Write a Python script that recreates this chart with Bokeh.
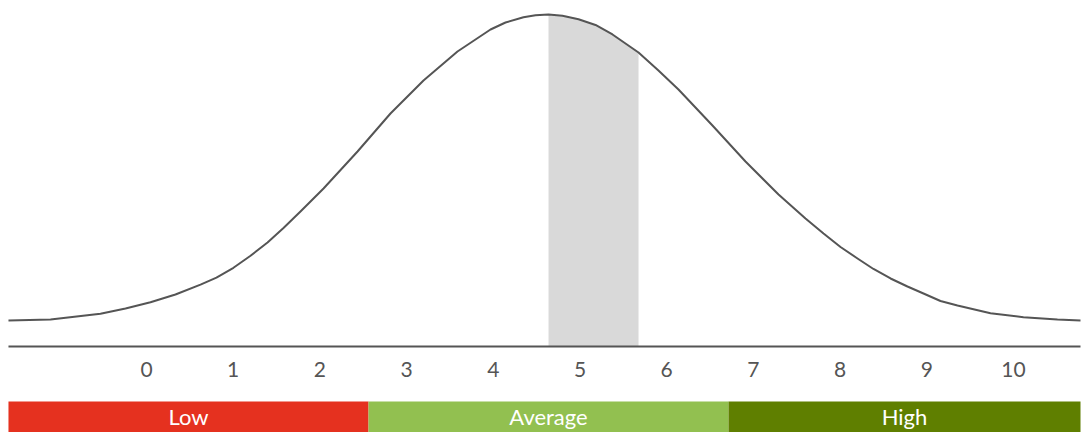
from bokeh.plotting import figure
from bokeh.models import ColumnDataSource, Range1d
from bokeh.core.properties import value
from bokeh.embed import file_html
from bokeh.resources import INLINE

# Bell curve (x = score, h = relative height, peak = 100)
curve_x = [-1.592, -1.107, -0.531, -0.242, 0.046, 0.334, 0.623, 0.807, 1.003, 1.200,
           1.396, 1.580, 1.776, 2.042, 2.434, 2.814, 3.195, 3.587, 3.968, 4.141,
           4.348, 4.487, 4.637, 4.798, 4.983, 5.179, 5.375, 5.675, 5.905, 6.136,
           6.528, 6.909, 7.290, 7.601, 7.809, 8.005, 8.201, 8.385, 8.582, 8.777,
           8.962, 9.158, 9.354, 9.735, 10.115, 10.507, 10.773]
curve_h = [0.33, 0.65, 2.51, 4.23, 6.29, 8.79, 12.0, 14.3, 17.5, 21.4,
           25.73, 30.46, 35.83, 43.32, 55.37, 67.75, 78.50, 87.95, 95.11, 97.39,
           99.12, 99.77, 100.0, 99.58, 98.44, 96.58, 93.49, 87.62, 81.76, 75.57,
           63.84, 52.12, 41.37, 33.55, 28.66, 24.27, 20.52, 17.10, 14.01, 11.40,
           9.12, 6.68, 5.21, 2.70, 1.40, 0.65, 0.33]

# Highlighted band under the curve
band_x = [4.637, 4.798, 4.983, 5.179, 5.375, 5.675]
band_h = [100.0, 99.58, 98.44, 96.58, 93.49, 87.62]

ticks = [0, 1, 2, 3, 4, 5, 6, 7, 8, 9, 10]
tick_labels = [str(t) for t in ticks]

cat_names = ["Low", "Average", "High"]
cat_left = [-1.592, 2.561, 6.713]
cat_right = [2.561, 6.713, 10.773]
cat_colors = ["#E5311F", "#92C050", "#5F7F00"]

axis_y = -8.14
label_y = -15.64
bar_bottom = -36.5
bar_top = -26.06

p = figure(width=1082, height=432, output_backend="svg", toolbar_location=None,
           x_range=Range1d(-1.684, 10.796), y_range=Range1d(-36.16, 104.56),
           min_border=0, min_border_left=0, min_border_right=0,
           min_border_top=0, min_border_bottom=0)
p.axis.visible = False
p.grid.visible = False
p.outline_line_color = None
p.background_fill_color = "white"
p.border_fill_color = "white"

p.varea(x=band_x, y1=[axis_y] * len(band_x), y2=band_h, fill_color="#D9D9D9")

p.line(curve_x, curve_h, line_color="#555555", line_width=2, line_join="round")

p.segment(x0=[cat_left[0]], y0=[axis_y], x1=[cat_right[-1]], y1=[axis_y],
          line_color="#555555", line_width=2)

p.text(x=ticks, y=[label_y] * len(ticks), text=tick_labels,
       text_align="center", text_baseline="middle",
       text_font=value("Lato"), text_font_size="21px", text_color="#555555")

src = ColumnDataSource(dict(left=cat_left, right=cat_right, color=cat_colors,
                            name=cat_names,
                            mid=[(a + b) / 2 for a, b in zip(cat_left, cat_right)]))
p.quad(left="left", right="right", bottom=bar_bottom, top=bar_top,
       fill_color="color", line_color=None, source=src)
p.text(x="mid", y=(bar_bottom + bar_top) / 2 + 0.2, text="name", source=src,
       text_align="center", text_baseline="middle",
       text_font=value("Lato"), text_font_size="22px", text_color="white")

open("out.html", "w").write(file_html(p, INLINE))
